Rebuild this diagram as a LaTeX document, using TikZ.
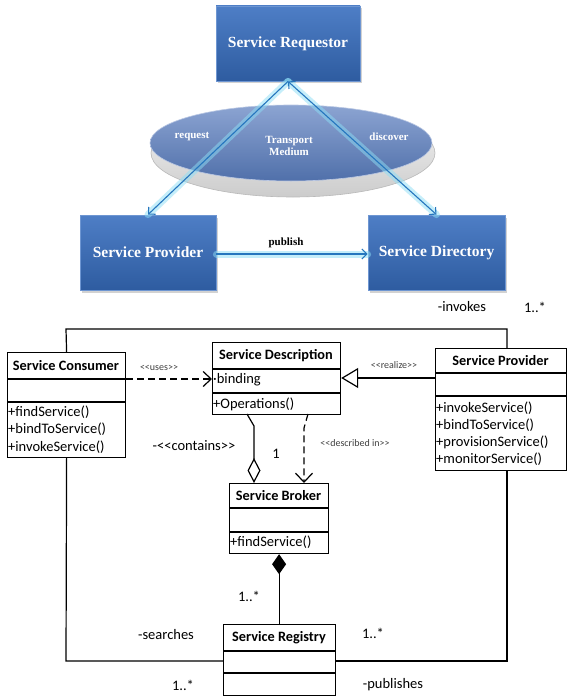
\documentclass[tikz,border=0pt]{standalone}
\usepackage{fontspec}
\setmainfont{Carlito}[Ligatures=TeXOff]
\newfontfamily\topfont{Liberation Serif}
\usetikzlibrary{arrows.meta,shadows,calc}
\definecolor{soaTop}{RGB}{78,126,198}
\definecolor{soaBot}{RGB}{46,92,160}
\definecolor{soaEdge}{RGB}{110,150,210}
\definecolor{soaLine}{RGB}{38,118,190}
\definecolor{soaGlow}{RGB}{140,222,246}
\definecolor{ellTop}{RGB}{140,164,210}
\definecolor{ellBot}{RGB}{80,112,170}
\tikzset{
  soabox/.style={rectangle, inner sep=0pt, top color=soaTop, bottom color=soaBot,
    draw=soaEdge, line width=0.8pt,
    drop shadow={opacity=0.35, shadow xshift=2pt, shadow yshift=-2.5pt},
    font=\topfont\bfseries\fontsize{15.5}{18}\selectfont, text=white},
  toplab/.style={font=\topfont\bfseries\fontsize{11}{13}\selectfont, text=white, inner sep=0pt},
  glowline/.style={line width=7pt, draw=soaGlow, opacity=0.5, line cap=round},
  bline/.style={line width=1.1pt, draw=soaLine},
  btip/.style={-{Straight Barb[length=5pt,width=10pt]}},
  umlbox/.style={rectangle, draw=black, line width=1.2pt, fill=white, inner sep=0pt, anchor=north west},
  uline/.style={line width=1.2pt, draw=black},
  utitle/.style={font=\bfseries\fontsize{14.3}{16}\selectfont, inner sep=0pt},
  umeth/.style={font=\fontsize{14.5}{16}\selectfont, anchor=west, inner sep=0pt},
  ster/.style={font=\fontsize{10}{12}\selectfont, text=black!75, inner sep=0pt},
  ulab/.style={font=\fontsize{14.5}{16}\selectfont, inner sep=0pt},
  udash/.style={dash pattern=on 7pt off 4pt},
}
\begin{document}
\begin{tikzpicture}[x=1pt,y=-1pt]
\useasboundingbox (0,0) rectangle (572,698);
\fill[white] (0,0) rectangle (572,698);

% ---------- top: SOA triangle ----------
% transport medium disc
\shade[top color=gray!8, bottom color=gray!40, draw=gray!55, line width=0.6pt]
  (293,153) ellipse [x radius=142, y radius=44];
\shade[top color=ellTop, bottom color=ellBot, draw=ellTop!60!white, line width=0.6pt]
  (291,143) ellipse [x radius=141, y radius=38];

\node[soabox, minimum width=144, minimum height=75] (req) at (288,43.5) {Service Requestor};
\node[soabox, minimum width=136, minimum height=75] (sprov) at (148,252.5) {Service Provider};
\node[soabox, minimum width=137, minimum height=75] (sdir) at (436.5,252.5) {Service Directory};

\node[toplab] (lreq) at (192,137) {request};
\node[toplab, align=center, font=\topfont\bfseries\fontsize{11}{12.5}\selectfont] (ltm) at (289,146) {Transport\\Medium};
\node[toplab] (ldisc) at (389,137) {discover};
\node[toplab, text=black] (lpub) at (286,243) {publish};

\draw[glowline] (req.south) -- (sprov.north);
\draw[glowline] (req.south) -- (sdir.north);
\draw[glowline] (sprov.east |- 0,254) -- (sdir.west |- 0,254);
\draw[bline, btip] (req.south) -- (sprov.north);
\draw[bline, {Straight Barb[length=5pt,width=10pt]}-{Straight Barb[length=5pt,width=10pt]}] (req.south) -- (sdir.north);
\draw[bline, btip] (sprov.east |- 0,254) -- (sdir.west |- 0,254);

% ---------- bottom: UML ----------
\node[umlbox, minimum width=118, minimum height=105] (cons) at (7,352) {};
\node[umlbox, minimum width=128, minimum height=72] (desc) at (212,342) {};
\node[umlbox, minimum width=131, minimum height=122] (uprov) at (435,348) {};
\node[umlbox, minimum width=99, minimum height=70] (brok) at (229,483) {};
\node[umlbox, minimum width=112, minimum height=71] (reg) at (223,624) {};

% compartments
\draw[uline] (cons.north west) ++(0,27) -- ++(118,0);
\draw[uline] (cons.north west) ++(0,50) -- ++(118,0);
\draw[uline] (desc.north west) ++(0,27) -- ++(128,0);
\draw[uline] (desc.north west) ++(0,51) -- ++(128,0);
\draw[uline] (uprov.north west) ++(0,25) -- ++(131,0);
\draw[uline] (uprov.north west) ++(0,48) -- ++(131,0);
\draw[uline] (brok.north west) ++(0,25) -- ++(99,0);
\draw[uline] (brok.north west) ++(0,49) -- ++(99,0);
\draw[uline] (reg.north west) ++(0,27) -- ++(112,0);
\draw[uline] (reg.north west) ++(0,49) -- ++(112,0);

% texts in classes
\node[utitle] (consT) at (66,365.5) {Service Consumer};
\node[umeth] (consM1) at (8,412) {+findService()};
\node[umeth] (consM2) at (8,429.5) {+bindToService()};
\node[umeth] (consM3) at (8,447) {+invokeService()};

\node[utitle] (descT) at (276,355.5) {Service Description};
\node[umeth] (descA) at (213,380) {·binding};
\node[umeth] (descM) at (213,404) {+Operations()};

\node[utitle] (provT) at (500.5,360.5) {Service Provider};
\node[umeth] (provM1) at (436,408) {+invokeService()};
\node[umeth] (provM2) at (436,425) {+bindToService()};
\node[umeth] (provM3) at (436,442) {+provisionService()};
\node[umeth] (provM4) at (436,459) {+monitorService()};

\node[utitle] (brokT) at (278.5,495.5) {Service Broker};
\node[umeth] (brokM) at (230,542) {+findService()};

\node[utitle] (regT) at (279,637.5) {Service Registry};

% outer association loop
\coordinate (tl) at (66,329);
\coordinate (tr) at (507,329);
\coordinate (bl) at (66,661);
\coordinate (br) at (507,661);
\draw[uline] (cons.north) -- (tl) -- (tr) -- (tr |- uprov.north);
\draw[uline] (cons.south) -- (bl) -- (bl -| reg.west);
\draw[uline] (reg.east |- br) -- (br) -- (br |- uprov.south);

% uses
\draw[uline, udash, -{Straight Barb[length=8pt,width=15pt]}] (cons.east |- 0,379) -- (desc.west |- 0,379);
% realize
\draw[uline, -{Triangle[open, length=17pt, width=20pt]}] (uprov.west |- 0,378) -- (desc.east |- 0,378);
% contains (aggregation)
\coordinate (c1) at (247,414);
\coordinate (c2) at (254,426);
\draw[uline, -{Diamond[open, length=25pt, width=13pt]}] (c1) -- (c2) -- (c2 |- brok.north);
% described in
\coordinate (d1) at (308,414);
\coordinate (d2) at (304,428);
\draw[uline, udash, -{Straight Barb[length=9pt,width=17pt]}] (d1) -- (d2) -- (d2 |- brok.north);
% composition
\draw[uline, {Diamond[length=20pt, width=14pt]}-] (brok.south) -- (brok.south |- reg.north);

% labels
\node[ster] (luses) at (159,368) {<<uses>>};
\node[ster] (lreal) at (394,365) {<<realize>>};
\node[ster] (ldesc) at (355,443) {<<described in>>};
\node[ulab] (lcont) at (194,446) {-<<contains>>};
\node[ulab] (lone) at (276,454) {1};
\node[ulab] (linv) at (462,307) {-invokes};
\node[ulab] (linvm) at (535,307) {1..*};
\node[ulab] (lcomp) at (249,596) {1..*};
\node[ulab] (lsearch) at (166,635) {-searches};
\node[ulab] (lregm) at (373,633) {1..*};
\node[ulab] (lsearchm) at (183,685) {1..*};
\node[ulab] (lpubs) at (393,685) {-publishes};
\end{tikzpicture}
\end{document}
